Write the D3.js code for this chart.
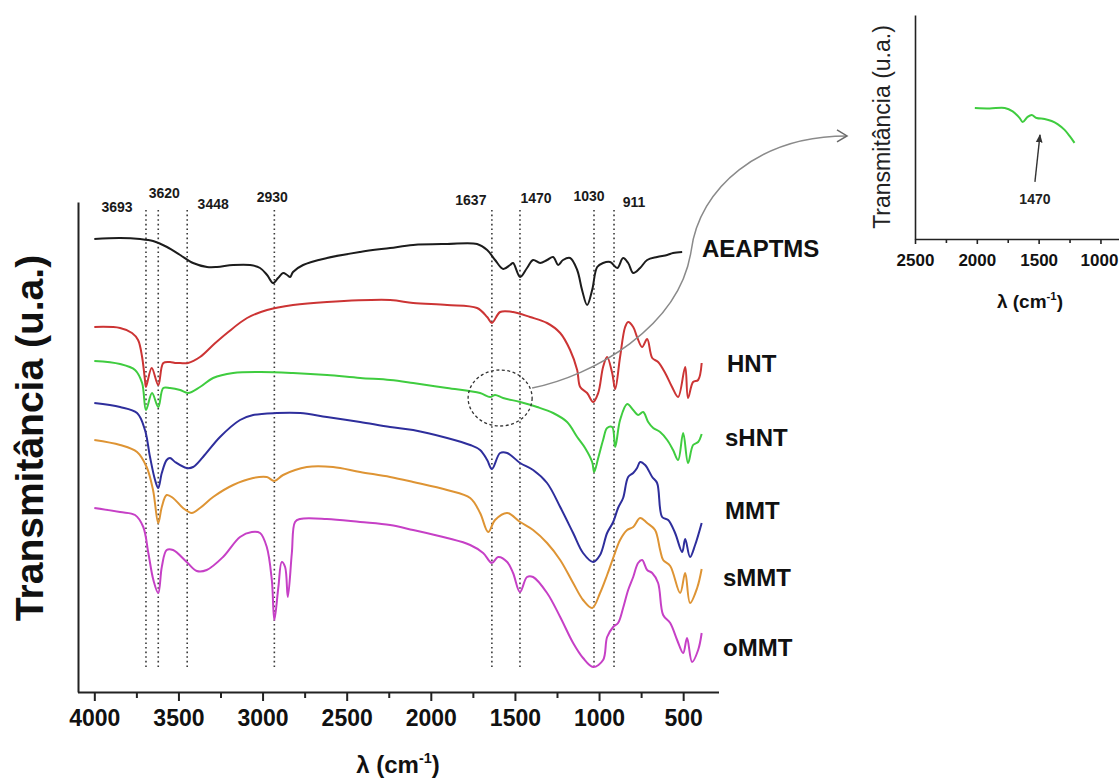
<!DOCTYPE html>
<html>
<head>
<meta charset="utf-8">
<script src="https://cdn.jsdelivr.net/npm/d3@7"></script>
<style>
  body { margin: 0; background: #fff; }
  svg { display: block; }
  text { font-family: 'Liberation Sans', Arial, Helvetica, sans-serif; }
</style>
</head>
<body>
<svg id="chart" width="1119" height="781"></svg>
<script>
// ---------------- FTIR spectra: [wavenumber (cm-1), transmittance (u.a., stacked)] ----------------
const aeaptms = [[4000,453],[3847,454],[3728,453],[3651,451],[3568,445],[3490,437],[3413,429],[3330,425],[3271,425],[3175,427],[3074,427],[3015,424],[2973,417],[2938,409],[2908,414],[2878,419],[2854,417],[2836,415],[2819,420],[2759,427],[2617,434],[2420,440],[2242,444],[2105,447],[1903,448],[1725,448],[1665,442],[1618,432],[1570,423],[1529,427],[1511,429],[1469,415],[1428,424],[1392,432],[1350,429],[1309,432],[1273,435],[1243,427],[1214,432],[1172,434],[1130,422],[1101,402],[1071,387],[1041,402],[1011,425],[976,429],[934,430],[892,424],[857,434],[827,429],[797,419],[756,424],[714,432],[655,435],[595,437],[560,439],[506,440]];

const hnt = [[4000,365],[3847,364],[3776,359],[3740,352],[3716,335],[3699,312],[3693,305],[3659,324],[3620,307],[3590,329],[3550,330],[3520,329],[3490,329],[3443,329],[3372,335],[3294,347],[3211,359],[3092,374],[2973,382],[2819,387],[2617,390],[2242,392],[2105,389],[1903,387],[1725,384],[1665,375],[1637,369],[1588,380],[1511,380],[1410,375],[1309,369],[1231,359],[1172,342],[1130,322],[1112,305],[1071,299],[1035,290],[1005,299],[976,325],[952,335],[922,319],[904,303],[875,335],[845,365],[827,370],[797,365],[774,355],[744,345],[714,353],[684,334],[649,330],[607,319],[566,305],[530,295],[488,325],[471,294],[441,310],[411,312],[390,329]];

const shnt = [[4000,331],[3847,328],[3758,322],[3716,309],[3693,282],[3657,299],[3620,285],[3590,304],[3550,304],[3490,302],[3443,299],[3372,305],[3294,314],[3175,319],[3015,320],[2819,319],[2617,317],[2420,314],[2242,312],[2105,309],[1903,304],[1707,299],[1648,295],[1618,297],[1570,294],[1469,290],[1368,285],[1273,279],[1190,270],[1130,255],[1083,244],[1041,230],[1029,220],[1005,234],[976,252],[952,264],[922,265],[904,245],[875,272],[833,288],[797,282],[768,277],[738,280],[708,270],[678,264],[637,260],[595,252],[560,242],[530,232],[500,259],[471,229],[441,247],[411,250],[390,258]];

const mmt = [[4000,289],[3847,285],[3746,279],[3699,262],[3669,235],[3639,212],[3620,204],[3599,219],[3570,232],[3550,234],[3520,230],[3451,224],[3413,225],[3354,235],[3253,255],[3134,272],[3056,277],[2916,279],[2777,279],[2618,275],[2420,270],[2242,265],[2105,262],[1903,254],[1766,247],[1707,242],[1665,232],[1637,223],[1588,239],[1546,239],[1469,229],[1392,222],[1309,209],[1231,185],[1154,159],[1095,139],[1035,130],[994,137],[952,159],[916,170],[887,184],[857,194],[827,215],[797,219],[774,224],[756,230],[726,227],[684,215],[655,209],[625,175],[589,172],[548,159],[506,140],[488,153],[459,135],[429,147],[390,169]];

const smmt = [[4000,252],[3847,247],[3746,240],[3689,225],[3651,202],[3620,169],[3599,185],[3570,197],[3532,194],[3473,184],[3421,179],[3372,184],[3294,195],[3175,207],[3056,214],[2975,215],[2930,211],[2878,217],[2737,225],[2581,225],[2420,220],[2242,215],[2105,210],[1903,202],[1766,194],[1707,179],[1659,160],[1618,172],[1546,179],[1469,170],[1392,162],[1309,149],[1231,132],[1154,109],[1095,92],[1041,84],[994,99],[952,117],[916,134],[875,152],[833,162],[797,165],[756,174],[714,169],[667,162],[637,142],[619,132],[577,126],[518,99],[488,119],[459,89],[417,104],[390,123]];

const ommt = [[4000,184],[3847,180],[3758,177],[3709,165],[3679,139],[3649,112],[3620,99],[3599,125],[3570,142],[3532,142],[3451,130],[3391,121],[3332,122],[3235,135],[3134,155],[3064,160],[3015,159],[2975,145],[2945,112],[2930,72],[2906,105],[2886,130],[2866,125],[2850,95],[2826,139],[2807,170],[2777,173],[2618,173],[2420,170],[2242,167],[2105,162],[1903,154],[1766,147],[1689,139],[1637,129],[1600,135],[1546,130],[1511,119],[1470,100],[1428,115],[1392,115],[1309,99],[1231,75],[1154,49],[1095,34],[1035,25],[976,32],[952,55],[916,65],[887,69],[857,84],[827,102],[797,115],[768,129],[744,132],[714,122],[684,119],[649,109],[619,77],[577,69],[536,52],[500,39],[477,54],[447,30],[411,42],[390,59]];

// sHNT detail, 2000–1200 cm-1 (inset)
const shntDetail = [[2016,58.5],[1895,58.3],[1774,58.5],[1710,57],[1653,54],[1629,52.2],[1589,54.5],[1556,55.4],[1516,54],[1452,53.6],[1395,52.7],[1347,51.3],[1290,48.7],[1250,46],[1210,42.9]];

const seriesNames = ["AEAPTMS", "HNT", "sHNT", "MMT", "sMMT", "oMMT"];
const seriesData = [aeaptms, hnt, shnt, mmt, smmt, ommt];

// Marked absorption bands
const peakWavenumbers = [3693, 3620, 3448, 2930, 1637, 1470, 1030, 911];
const insetPeak = 1470;

// Axis ticks
const mainMajorTicks = [4000, 3500, 3000, 2500, 2000, 1500, 1000, 500];
const mainMinorTicks = [3750, 3250, 2750, 2250, 1750, 1250, 750];
const insetMajorTicks = [2500, 2000, 1500, 1000];
const insetMinorTicks = [2250, 1750, 1250];

// ---------------- styling / layout ----------------
const FONT = "'Liberation Sans', Arial, Helvetica, sans-serif";
const colors = ["#1c1c1c", "#cc3434", "#3fcc3f", "#2e2e9c", "#de9434", "#c640c6"];
const labelLevel = [444, 329, 255, 182, 115, 45];     // label centre, in u.a.
const labelLeft = [702, 727, 725, 725, 723, 723];
const peakLabelShift = [[-29,-3],[6,-17],[26,-6],[-2,-13],[-21,-10],[16,-12],[-5,-14],[20,-8]];
const plainNumber = d3.format("d");

const svg = d3.select("#chart");
svg.append("rect").attr("width", 1119).attr("height", 781).attr("fill", "#fff");

// ---------------- main panel ----------------
const x = d3.scaleLinear().domain([4100, 290]).range([77.5, 718.5]);
const y = d3.scaleLinear().domain([0, 490]).range([692, 202]);

const line = d3.line()
  .x(d => x(d[0]))
  .y(d => y(d[1]))
  .curve(d3.curveCatmullRom.alpha(0.5));

// dotted guides at the marked bands
const guideTop = 482, guideBottom = 24;
const guides = svg.append("g");
guides.selectAll("line").data(peakWavenumbers).join("line")
  .attr("x1", d => x(d)).attr("x2", d => x(d))
  .attr("y1", y(guideTop)).attr("y2", y(guideBottom))
  .attr("stroke", "#3a3a3a").attr("stroke-width", 1.6)
  .attr("stroke-dasharray", "1.6,3");

guides.selectAll("text").data(peakWavenumbers).join("text")
  .attr("x", (d, i) => x(d) + peakLabelShift[i][0])
  .attr("y", (d, i) => y(guideTop) + peakLabelShift[i][1])
  .attr("text-anchor", "middle").attr("dominant-baseline", "central")
  .attr("font-size", 14).attr("font-weight", "bold").attr("fill", "#1a1a1a")
  .text(d => d);

// spectra
svg.append("g").selectAll("path").data(seriesData).join("path")
  .attr("d", line)
  .attr("fill", "none")
  .attr("stroke", (d, i) => colors[i])
  .attr("stroke-width", 2)
  .attr("stroke-linejoin", "round");

// series labels
svg.append("g").selectAll("text").data(seriesNames).join("text")
  .attr("x", (d, i) => labelLeft[i])
  .attr("y", (d, i) => y(labelLevel[i]))
  .attr("dominant-baseline", "central")
  .attr("font-size", 24).attr("font-weight", "bold").attr("fill", "#111")
  .text(d => d);

// axes
const xAxisG = svg.append("g").attr("transform", `translate(0,${y(0)})`)
  .call(d3.axisBottom(x).tickValues(mainMajorTicks).tickFormat(plainNumber)
    .tickSize(9).tickPadding(9).tickSizeOuter(0));
xAxisG.append("g").call(d3.axisBottom(x).tickValues(mainMinorTicks).tickSize(6).tickFormat("").tickSizeOuter(0))
  .select(".domain").remove();
xAxisG.selectAll("path.domain, line").attr("stroke", "#222").attr("stroke-width", 2);
xAxisG.selectAll("text").attr("font-size", 23).attr("font-weight", "bold").attr("fill", "#111")
  .attr("font-family", FONT);

const yAxisG = svg.append("g").attr("transform", `translate(${x(4100) + 0.5},0)`)
  .call(d3.axisLeft(y).tickValues([]).tickSizeOuter(0));
yAxisG.select(".domain").attr("stroke", "#222").attr("stroke-width", 2);

// axis titles
svg.append("text")
  .attr("transform", `translate(43,${(y(0) + y(490)) / 2 - 9}) rotate(-90)`)
  .attr("text-anchor", "middle")
  .attr("font-size", 39).attr("font-weight", "bold").attr("fill", "#111")
  .text("Transmitância (u.a.)");

function lambdaTitle(g, cx, cy, size) {
  const t = g.append("text").attr("x", cx).attr("y", cy)
    .attr("text-anchor", "middle").attr("font-size", size)
    .attr("font-weight", "bold").attr("fill", "#111");
  t.append("tspan").text("λ (cm");
  t.append("tspan").attr("font-size", size * 0.6).attr("dy", -size * 0.42).text("-1");
  t.append("tspan").attr("dy", size * 0.42).text(")");
  return t;
}
lambdaTitle(svg, (x.range()[0] + x.range()[1]) / 2, 773, 24);

// ---------------- zoom marker and connector ----------------
const ringCenter = [1588, 294];
const ringRx = 32, ringRy = 28;
const cx = x(ringCenter[0]), cy = y(ringCenter[1]);
svg.append("ellipse")
  .attr("cx", cx).attr("cy", cy).attr("rx", ringRx).attr("ry", ringRy)
  .attr("fill", "none").attr("stroke", "#333").attr("stroke-width", 1.3)
  .attr("stroke-dasharray", "3,2.5");

// ---------------- inset ----------------
const ix = d3.scaleLinear().domain([2500, 850]).range([915, 1119]);
const iy = d3.scaleLinear().domain([0, 100]).range([239, 15]);

const sx = cx + ringRx, sy = cy - 10;
const ex = ix(2500) - 68, ey = iy(46);
svg.append("path")
  .attr("d", `M${sx},${sy} C${sx + 60},${sy - 12} ${sx + 147},${sy - 60} ${sx + 159},${sy - 137} C${sx + 167},${sy - 200} ${sx + 227},${ey} ${ex},${ey}`)
  .attr("fill", "none").attr("stroke", "#8a8a8a").attr("stroke-width", 1.5);
svg.append("path")
  .attr("d", `M${ex - 10},${ey - 6} L${ex},${ey} L${ex - 10},${ey + 6}`)
  .attr("fill", "none").attr("stroke", "#6a6a6a").attr("stroke-width", 1.5);

const ixAxisG = svg.append("g").attr("transform", `translate(0,${iy(0)})`)
  .call(d3.axisBottom(ix).tickValues(insetMajorTicks).tickFormat(plainNumber)
    .tickSize(5).tickPadding(10).tickSizeOuter(0));
ixAxisG.append("g").call(d3.axisBottom(ix).tickValues(insetMinorTicks).tickSize(4).tickFormat("").tickSizeOuter(0))
  .select(".domain").remove();
ixAxisG.selectAll("path.domain, line").attr("stroke", "#222").attr("stroke-width", 1.6);
ixAxisG.selectAll("text").attr("font-size", 17).attr("font-weight", "bold").attr("fill", "#111")
  .attr("font-family", FONT);
// keep the last label inside the frame
ixAxisG.selectAll(".tick").filter(d => d === 1000).select("text").attr("dx", -1.5);

const iyAxisG = svg.append("g").attr("transform", `translate(${ix(2500)},0)`)
  .call(d3.axisLeft(iy).tickValues([]).tickSizeOuter(0));
iyAxisG.select(".domain").attr("stroke", "#222").attr("stroke-width", 1.6);

svg.append("text")
  .attr("transform", `translate(890,${(iy(0) + iy(100)) / 2}) rotate(-90)`)
  .attr("text-anchor", "middle")
  .attr("font-size", 23).attr("fill", "#222")
  .text("Transmitância (u.a.)");

lambdaTitle(svg, 1030, 308, 19);

svg.append("path")
  .datum(shntDetail)
  .attr("d", d3.line().x(d => ix(d[0])).y(d => iy(d[1])).curve(d3.curveCatmullRom.alpha(0.5)))
  .attr("fill", "none").attr("stroke", colors[2]).attr("stroke-width", 2);

// arrow to the 1470 cm-1 shoulder
svg.append("defs").append("marker")
  .attr("id", "tip").attr("viewBox", "0 0 10 10").attr("refX", 9).attr("refY", 5)
  .attr("markerWidth", 6).attr("markerHeight", 6).attr("orient", "auto")
  .append("path").attr("d", "M0,1 L10,5 L0,9 Z").attr("fill", "#333");
svg.append("line")
  .attr("x1", ix(1530)).attr("y1", iy(25.5))
  .attr("x2", ix(1489)).attr("y2", iy(46.5))
  .attr("stroke", "#333").attr("stroke-width", 1.4)
  .attr("marker-end", "url(#tip)");
svg.append("text")
  .attr("x", ix(1530)).attr("y", iy(18))
  .attr("text-anchor", "middle").attr("dominant-baseline", "central")
  .attr("font-size", 14).attr("font-weight", "bold").attr("fill", "#222")
  .text(insetPeak);
</script>
</body>
</html>
